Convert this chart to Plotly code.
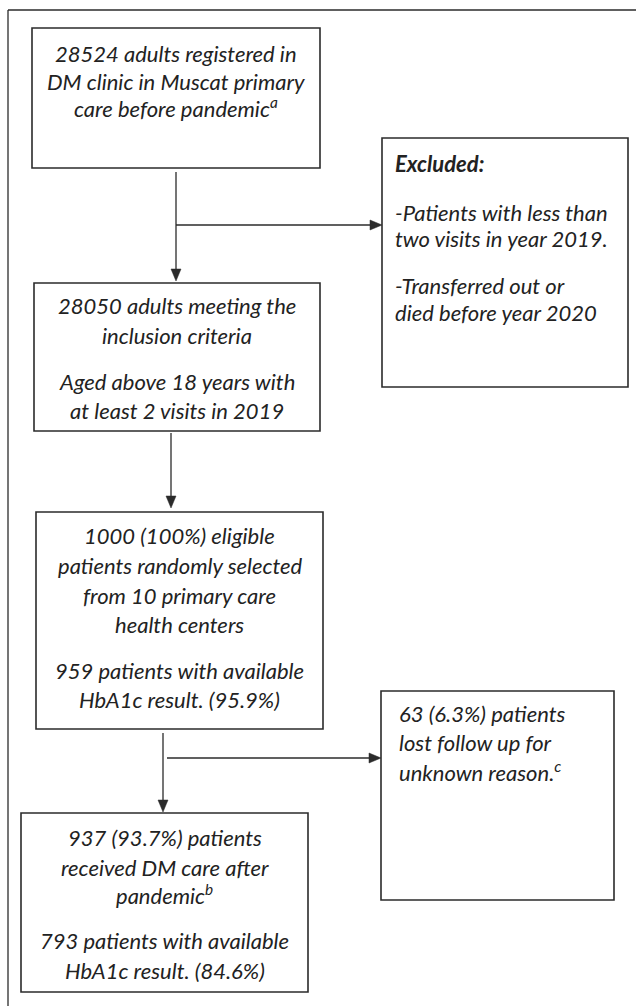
import plotly.graph_objects as go

# ---- content (texts of the flowchart) ----
box1_lines = ["28524 adults registered in", "DM clinic in Muscat primary", "care before pandemic<sup>a</sup>"]
box2_lines = ["28050 adults meeting the", "inclusion criteria", "Aged above 18 years with", "at least 2 visits in 2019"]
excl_lines = ["<b>Excluded:</b>", "-Patients with less than", "two visits in year 2019.", "-Transferred out or", "died before year 2020"]
box3_lines = ["1000 (100%) eligible", "patients randomly selected", "from 10 primary care", "health centers",
              "959 patients with available", "HbA1c result. (95.9%)"]
lost_lines = ["63 (6.3%) patients", "lost follow up for", "unknown reason.<sup>c</sup>"]
box5_lines = ["937 (93.7%) patients", "received DM care after", "pandemic<sup>b</sup>",
              "793 patients with available", "HbA1c result. (84.6%)"]

# ---- layout geometry (pixels, y downward) ----
W, H = 636, 1006
boxes = {
    "b1": (32, 28, 320, 168),
    "b2": (34, 283, 320, 431),
    "ex": (382, 138, 628, 387),
    "b3": (36, 512, 323, 729),
    "lost": (381, 691, 614, 900),
    "b5": (21, 813, 308, 992),
}
line_y = {
    "b1": [53, 81, 107],
    "b2": [305, 335, 381, 410],
    "ex": [163, 212, 238, 285, 312],
    "b3": [535, 565, 595, 624, 670, 699],
    "lost": [713, 742, 771],
    "b5": [837, 867, 894, 940, 970],
}
texts = {"b1": box1_lines, "b2": box2_lines, "ex": excl_lines, "b3": box3_lines,
         "lost": lost_lines, "b5": box5_lines}
left_aligned = {"ex": 393, "lost": 397}

LC = "#2b2b2b"
TC = "#222222"
FONT = "Lato"
FS = 22

fig = go.Figure()
shapes = []
annotations = []

# outer frame (clipped at right/bottom)
shapes.append(dict(type="line", x0=8, y0=10, x1=W + 5, y1=10, line=dict(color=LC, width=1.3)))
shapes.append(dict(type="line", x0=8, y0=10, x1=8, y1=H + 5, line=dict(color=LC, width=1.3)))

for k, (x0, y0, x1, y1) in boxes.items():
    shapes.append(dict(type="rect", x0=x0, y0=y0, x1=x1, y1=y1,
                       line=dict(color=LC, width=1.6), fillcolor="rgba(0,0,0,0)"))
    for t, y in zip(texts[k], line_y[k]):
        if k in left_aligned:
            annotations.append(dict(x=left_aligned[k], y=y, text="<i>" + t + "</i>", showarrow=False,
                                    xanchor="left", yanchor="middle",
                                    font=dict(family=FONT, size=FS, color=TC)))
        else:
            annotations.append(dict(x=(x0 + x1) / 2, y=y, text="<i>" + t + "</i>", showarrow=False,
                                    xanchor="center", yanchor="middle",
                                    font=dict(family=FONT, size=FS, color=TC)))

def seg(xa, ya, xb, yb):
    shapes.append(dict(type="line", x0=xa, y0=ya, x1=xb, y1=yb, line=dict(color=LC, width=1.3)))

def arrow_down(x, tip):
    shapes.append(dict(type="path", path=f"M {x-5} {tip-12} L {x+5} {tip-12} L {x} {tip} Z",
                       fillcolor=LC, line=dict(color=LC, width=0.5)))

def arrow_right(tip, y):
    shapes.append(dict(type="path", path=f"M {tip-12} {y-5} L {tip-12} {y+5} L {tip} {y} Z",
                       fillcolor=LC, line=dict(color=LC, width=0.5)))

# connectors
seg(176, 172, 176, 270); arrow_down(176, 281)
seg(176, 225, 372, 225); arrow_right(382, 225)
seg(171, 433, 171, 496); arrow_down(171, 508)
seg(163, 733, 163, 800); arrow_down(163, 812)
seg(167, 758, 370, 758); arrow_right(381, 758)

fig.update_layout(
    width=W, height=H,
    margin=dict(l=0, r=0, t=0, b=0),
    paper_bgcolor="white", plot_bgcolor="white",
    xaxis=dict(range=[0, W], visible=False, fixedrange=True),
    yaxis=dict(range=[H, 0], visible=False, fixedrange=True),
    shapes=shapes, annotations=annotations, showlegend=False,
)
fig.write_html("out.html", config={"displayModeBar": False},
               post_script="document.body.style.margin='0px';document.body.style.overflow='hidden';")
